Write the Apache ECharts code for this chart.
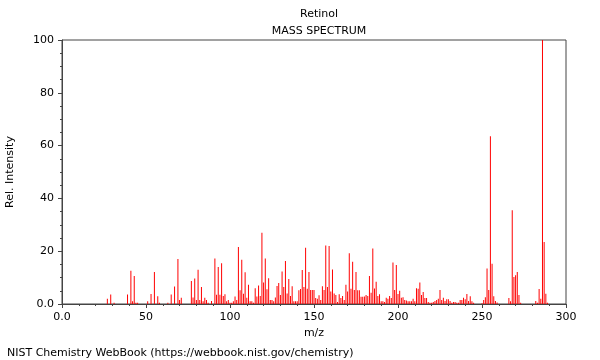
<!DOCTYPE html>
<html>
<head>
<meta charset="utf-8">
<script src="https://cdn.jsdelivr.net/npm/echarts@6/dist/echarts.min.js"></script>
<style>
html,body{margin:0;padding:0;background:#fff;}
#chart{width:600px;height:360px;}
</style>
</head>
<body>
<div id="chart"></div>
<script>
var titleMain = 'Retinol';
var titleSub = 'MASS SPECTRUM';
var xAxisName = 'm/z';
var yAxisName = 'Rel. Intensity';
var footer = 'NIST Chemistry WebBook (https://webbook.nist.gov/chemistry)';

var mz = [27,29,31,39,41,42,43,44,45,51,53,55,57,58,63,65,67,69,70,71,77,78,79,80,81,82,83,84,85,86,87,89,
91,92,93,94,95,96,97,98,99,100,101,102,103,104,105,106,107,108,109,110,111,112,113,114,115,116,117,118,119,120,
121,122,123,124,125,126,127,128,129,130,131,132,133,134,135,136,137,138,139,140,141,142,143,144,145,146,147,148,149,150,
151,152,153,154,155,156,157,158,159,160,161,162,163,164,165,166,167,168,169,170,171,172,173,174,175,176,177,178,179,180,
181,182,183,184,185,186,187,188,189,190,191,192,193,194,195,196,197,198,199,200,201,202,203,204,205,206,207,208,209,210,
211,212,213,214,215,216,217,218,219,220,221,222,223,224,225,226,227,228,229,230,231,232,233,234,235,236,237,238,239,240,
241,242,243,244,245,250,251,252,253,254,255,256,257,258,259,266,267,268,269,270,271,272,273,282,283,284,285,286,287,288,289];

var intensity = [2.0,3.6,0.5,3.6,12.6,1.0,10.6,0.5,0.5,1.0,3.8,12.1,2.9,0.5,0.5,3.6,6.6,17.0,1.5,2.4,8.7,2.5,9.7,1.5,13.0,1.5,6.4,1.0,2.4,1.5,0.5,1.1,
17.2,3.5,14.0,3.5,15.4,3.0,3.7,1.0,1.5,0.5,0.5,1.0,2.8,1.5,21.6,5.2,16.8,3.9,12.0,2.4,7.3,1.0,1.0,0.5,6.0,2.8,7.0,3.0,27.0,8.1,
17.2,5.6,9.8,1.5,1.5,1.0,2.5,6.8,8.0,3.4,12.3,6.4,16.3,4.0,9.5,3.0,6.7,1.0,1.0,1.0,5.2,5.7,12.9,6.4,21.3,5.8,12.1,5.3,5.3,5.3,
2.3,2.0,3.3,1.5,6.7,5.3,22.2,6.4,22.0,4.7,13.1,4.0,3.4,0.8,3.7,2.3,3.0,1.5,7.3,4.7,19.2,5.8,16.0,5.3,12.1,5.2,5.2,2.7,2.7,2.8,
3.4,3.0,10.6,4.3,21.0,5.9,8.4,3.0,3.7,1.0,1.0,0.8,2.4,2.0,3.0,2.3,15.7,5.3,14.8,3.8,5.0,2.4,2.6,1.5,1.3,1.0,1.0,1.0,2.0,1.0,
6.0,5.8,8.1,3.4,4.5,2.3,2.3,0.8,0.5,0.5,0.8,1.1,1.5,2.0,5.3,1.5,2.4,1.1,1.8,1.8,1.1,0.5,0.8,0.8,0.5,0.5,1.5,1.5,2.4,1.8,
3.8,1.1,2.9,1.0,0.5,0.3,1.5,2.6,13.4,5.3,63.5,15.2,2.9,1.1,0.6,2.3,1.0,35.5,10.2,10.9,12.1,3.4,0.5,1.1,0.5,5.7,2.0,100,23.5,3.9,0.5];

var xTicks = [0, 50, 100, 150, 200, 250, 300];
var yTicks = [0, 20, 40, 60, 80, 100];

var FONT = 'DejaVu Sans';
var AX = '#444';

var chart = echarts.init(document.getElementById('chart'), null, {renderer: 'canvas'});
var pairs = mz.map(function (m, i) { return [m, intensity[i]]; });

chart.setOption({
  animation: false,
  backgroundColor: '#fff',
  textStyle: {fontFamily: FONT},
  title: [
    {text: titleMain, left: 314, top: 4, textAlign: 'center',
     textStyle: {fontFamily: FONT, fontSize: 11, fontWeight: 'normal', color: '#000'}},
    {text: titleSub, left: 314, top: 21, textAlign: 'center',
     textStyle: {fontFamily: FONT, fontSize: 11, fontWeight: 'normal', color: '#000'}},
    {text: footer, left: 2, top: 343,
     textStyle: {fontFamily: FONT, fontSize: 11, fontWeight: 'normal', color: '#000'}}
  ],
  grid: {left: 62, right: 34, top: 40, bottom: 56, show: true, borderColor: AX, borderWidth: 1,
         backgroundColor: 'transparent', containLabel: false, outerBoundsMode: 'none'},
  xAxis: {
    type: 'value', min: xTicks[0], max: xTicks[xTicks.length - 1], interval: 50,
    name: xAxisName, nameLocation: 'middle', nameGap: 24,
    nameTextStyle: {fontFamily: FONT, fontSize: 11, color: '#000'},
    axisLine: {show: true, lineStyle: {color: AX, width: 1}},
    axisTick: {show: true, length: 4, lineStyle: {color: AX}},
    minorTick: {show: true, splitNumber: 5, length: 2, lineStyle: {color: AX}},
    splitLine: {show: false},
    axisLabel: {fontFamily: FONT, fontSize: 11, color: '#000', margin: 8,
      formatter: function (v) { return v === 0 ? '0.0' : String(v); }}
  },
  yAxis: {
    type: 'value', min: yTicks[0], max: yTicks[yTicks.length - 1], interval: 20,
    name: yAxisName, nameLocation: 'middle', nameGap: 46,
    nameTextStyle: {fontFamily: FONT, fontSize: 11, color: '#000'},
    axisLine: {show: true, lineStyle: {color: AX, width: 1}},
    axisTick: {show: true, length: 4, lineStyle: {color: AX}},
    minorTick: {show: true, splitNumber: 4, length: 2, lineStyle: {color: AX}},
    splitLine: {show: false},
    axisLabel: {fontFamily: FONT, fontSize: 11, color: '#000', margin: 8,
      formatter: function (v) { return v === 0 ? '0.0' : String(v); }}
  },
  series: [{
    type: 'bar',
    data: pairs,
    barWidth: 1,
    itemStyle: {color: '#ff0000'},
    silent: true
  }]
});
</script>
</body>
</html>
